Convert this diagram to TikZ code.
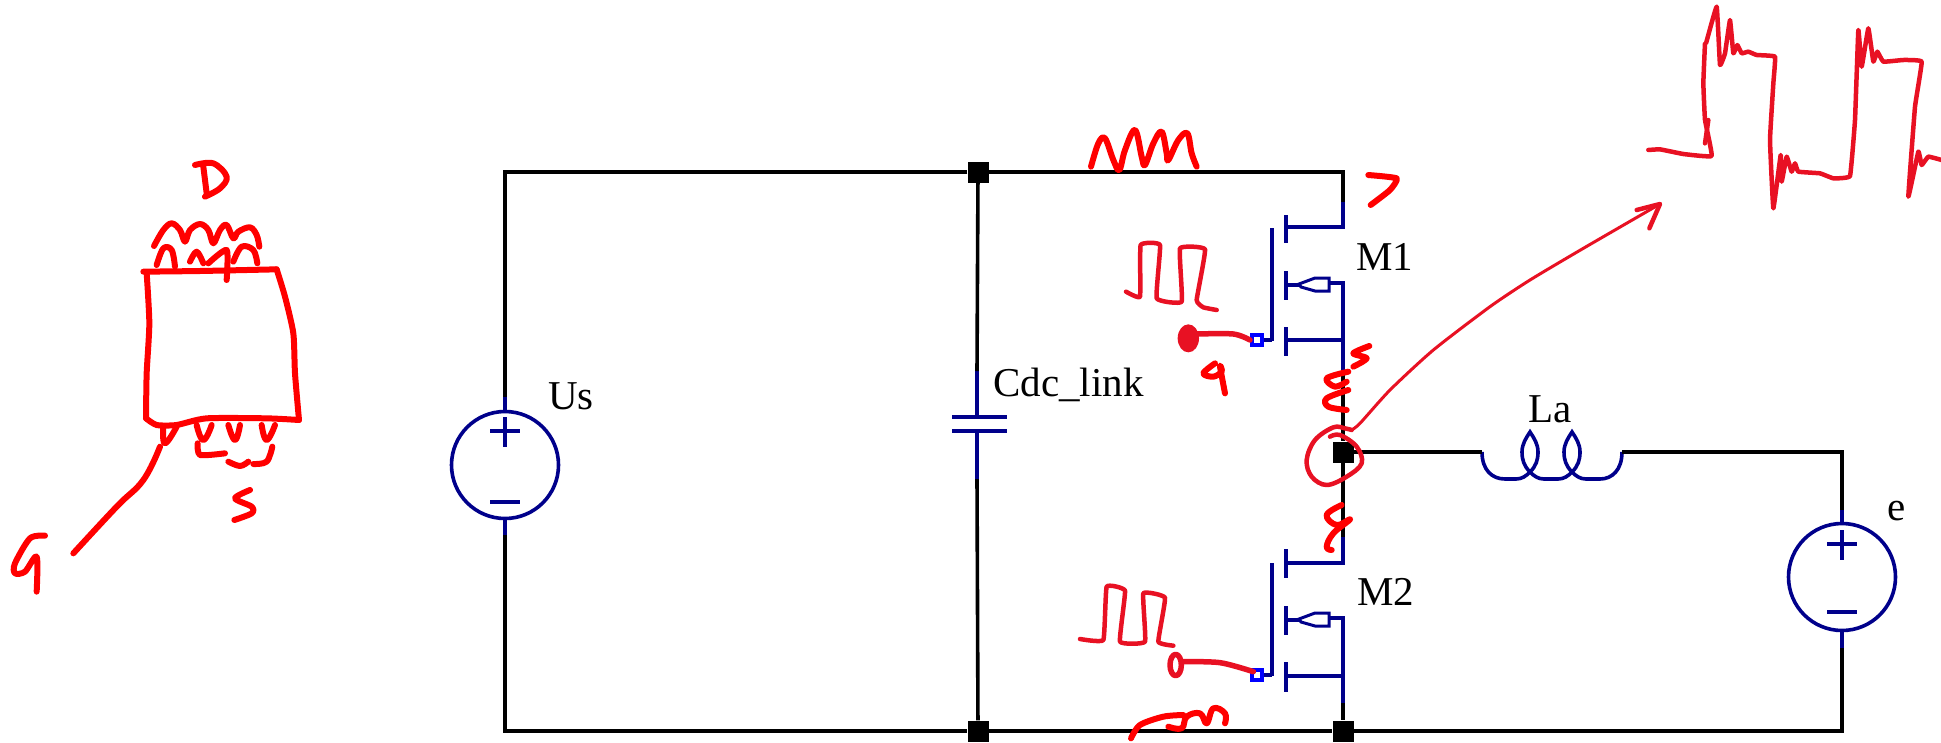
\documentclass[tikz,border=0pt]{standalone}
\usepackage{fontspec}
\setmainfont{Liberation Serif}
\definecolor{navywire}{RGB}{0,0,139}
\definecolor{padblue}{RGB}{0,0,255}
\definecolor{inkred}{RGB}{255,0,0}
\definecolor{penred}{RGB}{232,17,35}
\tikzset{
wire/.style={line width=3.6pt, black},
part/.style={line width=3.6pt, navywire},
junction/.style={fill=black, inner sep=0pt, minimum size=21pt},
source/.style={draw=navywire, line width=3.6pt, circle, inner sep=0pt, minimum size=107pt},
pad/.style={draw=padblue, line width=3.6pt, fill=white, inner sep=0pt, minimum size=10pt},
label/.style={anchor=base west, inner sep=0pt, font=\fontsize{41}{41}\selectfont},
ink/.style={inkred, line width=6pt, line cap=round, line join=round},
pen/.style={penred, line width=4.5pt, line cap=round, line join=round},
finepen/.style={penred, line width=3pt, line cap=round, line join=round},
}
\begin{document}
\begin{tikzpicture}[x=1pt, y=-1pt]
\useasboundingbox (0,0) rectangle (1941,742);
% junctions and corners
\node[junction] (J_top) at (978,172) {};
\node[junction] (J_bot) at (978,731) {};
\node[junction] (J_mid) at (1343,452) {};
\node[junction] (J_low) at (1343,731) {};
\coordinate (C_tl) at (505,172);
\coordinate (C_bl) at (505,731);
\coordinate (C_tr) at (1343,172);
\coordinate (C_mr) at (1842,452);
\coordinate (C_br) at (1842,731);
% Us
\node[source] (Us) at (505,465) {};
\coordinate (Us_a) at (505,397);
\coordinate (Us_b) at (505,535);
\draw[part] (Us_a) -- (Us.north);
\draw[part] (Us.south) -- (Us_b);
\draw[part] (490,431) -- (520,431) (505,417) -- (505,447);
\draw[part] (490,502) -- (520,502);
\node[label] (L_Us) at (548,409) {Us};
% e
\node[source] (E) at (1842,577) {};
\coordinate (E_a) at (1842,510);
\coordinate (E_b) at (1842,648);
\draw[part] (E_a) -- (E.north);
\draw[part] (E.south) -- (E_b);
\draw[part] (1827,544) -- (1857,544) (1842,530) -- (1842,560);
\draw[part] (1827,612) -- (1857,612);
\node[label] (L_e) at (1887,520) {e};
% Cdc_link
\coordinate (Cap_a) at (977,371);
\coordinate (Cap_b) at (977,479);
\coordinate (Cap_c) at (977,417);
\coordinate (Cap_d) at (977,431);
\draw[part] (Cap_a) -- (Cap_c);
\draw[part] (Cap_d) -- (Cap_b);
\draw[part] (952,417) -- (1007,417);
\draw[part] (952,431) -- (1007,431);
\node[label] (L_Cap) at (993,396) {Cdc\_link};
% M1
\coordinate (M1_d) at (1343,202);
\coordinate (M1_e) at (1343,227);
\coordinate (M1_s) at (1343,370);
\draw[part] (M1_d) -- (M1_e) -- (1286,227);
\draw[part] (1286,215) -- (1286,243);
\draw[part] (1272,228) -- (1272,341);
\draw[part] (1286,271) -- (1286,300);
\draw[part] (1286,327) -- (1286,356);
\draw[part] (1286,340) -- (1343,340);
\draw[part] (1286,285) -- (1301,285);
\draw[part, line width=3pt] (1299,284) -- (1315,278) -- (1329,278) -- (1329,291) -- (1315,291) -- (1301,287) -- cycle;
\draw[part] (1329,283) -- (1343,283) -- (M1_s);
\node[pad] (G_1) at (1257,340) {};
\draw[part] (G_1) -- (1272,340);
\node[label] (L_M1) at (1356,270) {M1};
% M2
\coordinate (M2_d) at (1343,537);
\coordinate (M2_e) at (1343,563);
\coordinate (M2_s) at (1343,703);
\draw[part] (M2_d) -- (M2_e) -- (1286,563);
\draw[part] (1286,549) -- (1286,578);
\draw[part] (1272,563) -- (1272,676);
\draw[part] (1286,606) -- (1286,635);
\draw[part] (1286,662) -- (1286,692);
\draw[part] (1286,676) -- (1343,676);
\draw[part] (1286,620) -- (1301,620);
\draw[part, line width=3pt] (1299,619) -- (1315,613) -- (1329,613) -- (1329,626) -- (1315,626) -- (1301,622) -- cycle;
\draw[part] (1329,618) -- (1343,618) -- (M2_s);
\node[pad] (G_2) at (1257,675) {};
\draw[part] (G_2) -- (1272,675);
\node[label] (L_M2) at (1357,605) {M2};
% La
\coordinate (La_a) at (1482,452);
\coordinate (La_b) at (1622,452);
\draw[part] (La_a) .. controls (1482,470) and (1492,479) .. (1505,479) -- (1516,479)
 .. controls (1522,479) and (1526,476) .. (1530,472) .. controls (1536,466) and (1538,460) .. (1538,452)
 .. controls (1538,444) and (1534,438) .. (1530,432) .. controls (1526,438) and (1522,444) .. (1522,452)
 .. controls (1522,460) and (1524,466) .. (1530,472) .. controls (1534,476) and (1538,479) .. (1544,479) -- (1558,479)
 .. controls (1564,479) and (1568,476) .. (1572,472) .. controls (1578,466) and (1580,460) .. (1580,452)
 .. controls (1580,444) and (1576,438) .. (1572,432) .. controls (1568,438) and (1564,444) .. (1564,452)
 .. controls (1564,460) and (1566,466) .. (1572,472) .. controls (1576,476) and (1580,479) .. (1586,479) -- (1600,479)
 .. controls (1612,479) and (1622,470) .. (La_b);
\node[label] (L_La) at (1528,422) {La};
% rails
\draw[wire] (J_top) -- (C_tl) -- (Us_a);
\draw[wire] (Us_b) -- (C_bl) -- (J_bot);
\draw[wire] (J_top) -- (Cap_a);
\draw[wire] (Cap_b) -- (J_bot);
\draw[wire] (J_top) -- (C_tr) -- (M1_d);
\draw[wire] (M1_s) -- (J_mid);
\draw[wire] (J_mid) -- (M2_d);
\draw[wire] (M2_s) -- (J_low);
\draw[wire] (J_bot) -- (J_low);
\draw[wire] (J_mid) -- (La_a);
\draw[wire] (La_b) -- (C_mr) -- (E_a);
\draw[wire] (E_b) -- (C_br) -- (J_low);
% device sketch
\begin{scope}[shift={(0,140)}, scale=1/3]
\draw[ink] plot[smooth, tension=.4] coordinates {(430,395) (600,393) (830,388)};
\draw[ink] plot[smooth, tension=.4] coordinates {(830,388) (855,470) (880,580) (885,700) (897,840)};
\draw[ink] plot[smooth, tension=.4] coordinates {(897,840) (800,835) (620,835) (530,855) (470,855) (438,835)};
\draw[ink] plot[smooth, tension=.4] coordinates {(438,835) (440,700) (448,550) (440,400)};
\draw[ink] plot[smooth, tension=.6] coordinates {(462,318) (490,270) (515,250) (540,270) (555,305) (570,270) (600,252) (625,270) (640,310) (660,270) (680,255) (700,295) (715,275) (750,262) (770,285) (778,320)};
\draw[ink] plot[smooth, tension=.6] coordinates {(470,375) (490,325) (515,330) (525,380)};
\draw[ink] plot[smooth, tension=.6] coordinates {(570,365) (590,335) (610,370)};
\draw[ink] plot[smooth, tension=.4] coordinates {(625,370) (680,330) (680,420)};
\draw[ink] plot[smooth, tension=.6] coordinates {(700,365) (725,320) (760,330) (772,370)};
\draw[ink] plot[smooth, tension=.8] coordinates {(490,860) (495,910) (530,860)};
\draw[ink] plot[smooth, tension=.8] coordinates {(590,855) (610,900) (635,855)};
\draw[ink] plot[smooth, tension=.8] coordinates {(685,855) (705,900) (720,855)};
\draw[ink] plot[smooth, tension=.8] coordinates {(785,855) (800,900) (825,855)};
\draw[ink] plot[smooth, tension=.4] coordinates {(593,910) (600,945) (675,940)};
\draw[ink] plot[smooth, tension=.6] coordinates {(685,965) (720,978) (745,965)};
\draw[ink] plot[smooth, tension=.6] coordinates {(760,972) (800,965) (817,920)};
\draw[ink] plot[smooth, tension=.6] coordinates {(585,75) (640,70) (680,110) (660,145) (615,170)};
\draw[ink] (610,80) -- (620,160);
\draw[ink] plot[smooth, tension=.5] coordinates {(750,1050) (705,1075) (755,1100) (755,1120) (703,1140)};
\draw[ink] plot[smooth, tension=.7] coordinates {(480,920) (430,1020) (350,1100) (220,1240)};
\draw[ink] plot[smooth, tension=.5] coordinates {(135,1187) (90,1195) (45,1270) (45,1300) (75,1295) (110,1250) (110,1355)};
\end{scope}
% M1 marks
\begin{scope}[shift={(1100,110)}, scale=1/3]
\draw[ink] plot[smooth, tension=.6] coordinates {(-27,170) (-5,100) (15,85) (40,150) (58,180) (75,120) (105,60) (125,140) (135,165) (160,100) (185,65) (200,130) (205,150) (235,90) (262,70) (275,130) (290,170)};
\draw[ink] plot[smooth, tension=.3] coordinates {(805,195) (890,205) (870,240) (812,285)};
\draw[pen] plot[smooth, tension=.2] coordinates {(78,545) (120,560) (122,405) (180,405) (170,565) (245,575) (240,415) (315,418) (290,570) (310,592) (350,600)};
\fill[penred] (265,685) ellipse (32 and 42);
\draw[pen, line width=5.5pt] plot[smooth, tension=.5] coordinates {(290,672) (400,672) (450,690)};
\draw[ink] plot[smooth, tension=.6] coordinates {(345,760) (310,790) (340,800) (365,785) (360,770) (375,850)};
\draw[ink] plot[smooth, tension=.5] coordinates {(808,708) (760,730) (800,745) (760,770)};
\end{scope}
% M2 marks
\begin{scope}[shift={(1060,430)}, scale=1/3]
\draw[pen] plot[smooth, tension=.2] coordinates {(60,627) (130,630) (140,470) (195,482) (180,635) (255,635) (250,490) (315,503) (295,635) (340,647)};
\draw[pen, line width=5.5pt] (347,705) ellipse (17 and 32);
\draw[pen, line width=5.5pt] plot[smooth, tension=.5] coordinates {(365,695) (480,698) (580,725)};
\draw[ink] plot[smooth, tension=.7] coordinates {(845,225) (800,255) (830,285) (870,268) (820,310) (800,350) (815,360)};
\draw[ink] plot[smooth, tension=.5] coordinates {(213,925) (240,885) (310,860) (370,855)};
\draw[ink] plot[smooth, tension=.7] coordinates {(325,890) (365,895) (380,860) (420,850) (440,880) (460,835) (495,850) (495,880)};
\end{scope}
% node marks
\begin{scope}[shift={(1290,190)}, scale=1/3]
\draw[ink] plot[smooth, tension=.6] coordinates {(175,545) (110,565) (135,590) (170,575)};
\draw[ink] plot[smooth, tension=.6] coordinates {(175,600) (110,625) (115,650) (170,660)};
\draw[pen] plot[smooth, tension=.6] coordinates {(120,740) (150,735) (200,770) (215,820) (170,860) (110,885) (65,860) (50,810) (75,750) (130,712) (165,715) (185,720)};
\draw[finepen] plot[smooth, tension=.4] coordinates {(185,720) (210,700) (300,600) (430,480) (600,350) (720,270) (880,175) (1110,42)};
\draw[pen] (1040,60) -- (1110,42) -- (1078,115);
\end{scope}
% waveform
\begin{scope}[shift={(1620,0)}, scale=1/3]
\draw[pen] plot[smooth, tension=.15] coordinates {(85,450) (120,448) (190,462) (275,468) (255,360) (250,250) (255,130) (258,130) (290,20) (300,195) (315,160) (330,60) (340,160) (352,135) (365,160) (385,155) (410,165) (465,170) (460,250) (450,420) (460,625) (482,465) (485,545) (500,470) (515,515) (525,490) (535,515) (600,520) (640,535) (690,528) (705,360) (715,90) (725,200) (745,85) (760,185) (772,155) (790,185) (850,180) (905,185) (885,320) (865,590) (895,455) (905,495) (925,470) (965,480)};
\draw[pen] (255,430) -- (265,360);
\end{scope}
\end{tikzpicture}
\end{document}
